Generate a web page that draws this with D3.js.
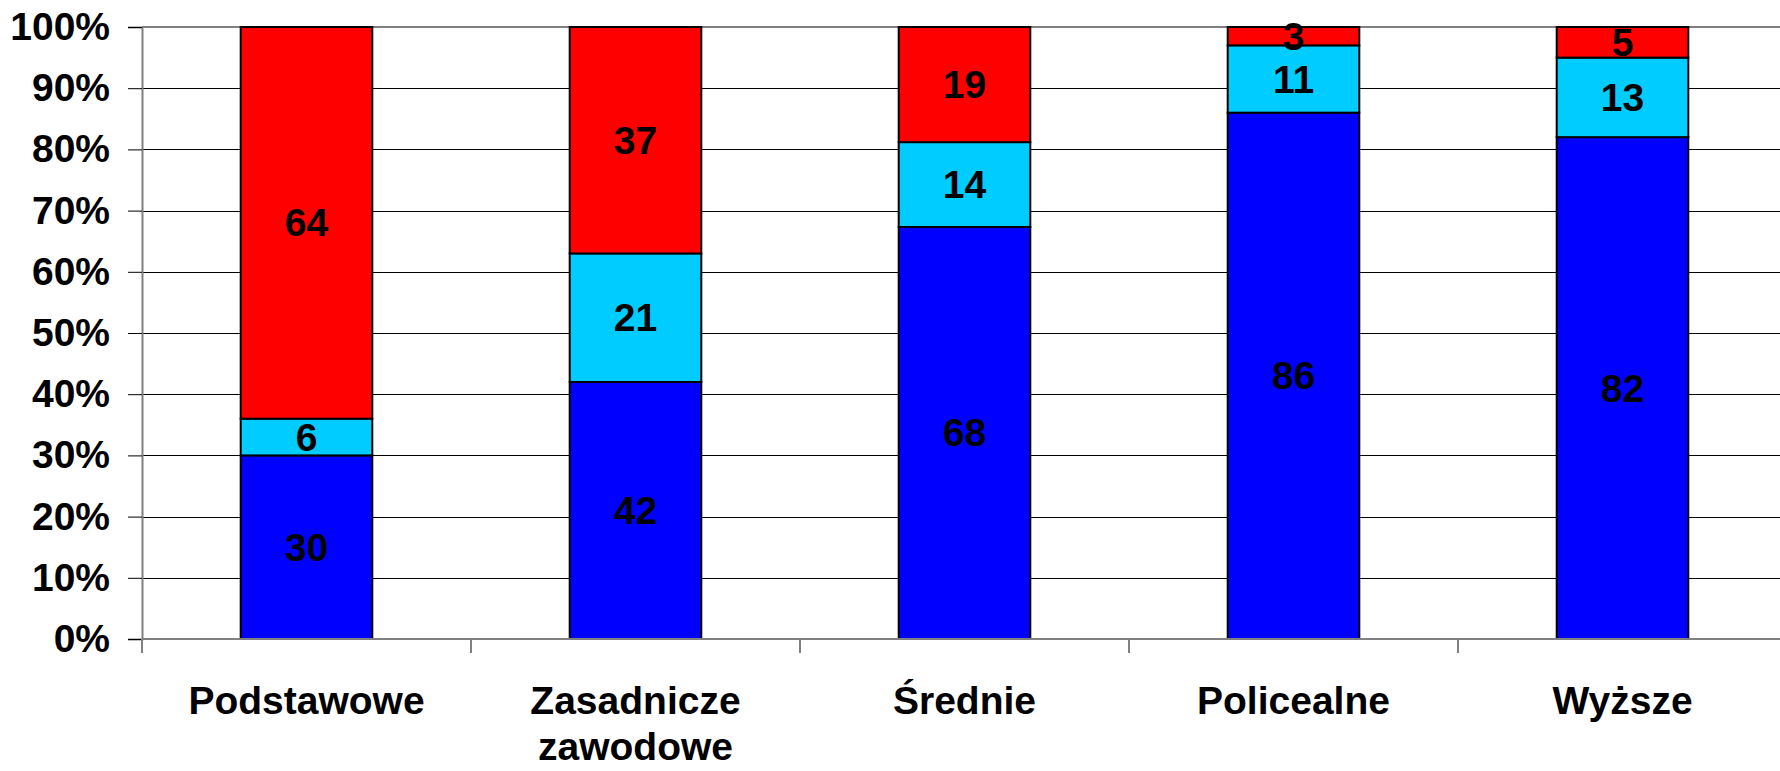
<!DOCTYPE html>
<html lang="pl">
<meta charset="utf-8">
<title>Wykształcenie</title>
<style>
    body { margin: 0; background: white; }
    #canvas { display: block; }
    text { font-family: "Liberation Sans", Arial, sans-serif; font-weight: bold; }
</style>

<body>
<svg id="canvas"></svg>

<script src="https://cdn.jsdelivr.net/npm/d3@7"></script>
<script>

    //////////////////////// Data /////////////////////////
    var categories   = ["Podstawowe", "Zasadnicze\nzawodowe", "Średnie", "Policealne", "Wyższe"];
    var series_keys  = ["s1", "s2", "s3"];
    var s1_values    = [30, 42, 68, 86, 82];
    var s2_values    = [6, 21, 14, 11, 13];
    var s3_values    = [64, 37, 19, 3, 5];
    var y_ticks      = [0, 0.1, 0.2, 0.3, 0.4, 0.5, 0.6, 0.7, 0.8, 0.9, 1];
    ///////////////////////////////////////////////////////

    //////////////// Position and Dimensions //////////////
    var dimensions   = [1780, 771];
    var plot_left    = 142;
    var plot_top     = 27;
    var plot_bottom  = 639;
    var band_step    = 329;
    var plot_right   = plot_left + categories.length * band_step;
    var tick_len     = 14;
    ///////////////////////////////////////////////////////

    /////////////////////// Style /////////////////////////
    var colors       = { s1: '#0000ff', s2: '#00ccff', s3: '#ff0000' };
    var axis_color   = '#808080';
    var grid_color   = '#000000';
    var font_size    = 39;
    ///////////////////////////////////////////////////////

    var rows = categories.map(function (c, i) {
        return { cat: c, s1: s1_values[i], s2: s2_values[i], s3: s3_values[i] };
    });

    var stacked = d3.stack()
        .keys(series_keys)
        .offset(d3.stackOffsetExpand)(rows);

    var x = d3.scaleBand()
        .domain(categories)
        .range([plot_left, plot_right])
        .paddingInner(0.6)
        .paddingOuter(0.3);

    var y = d3.scaleLinear()
        .domain([0, 1])
        .range([plot_bottom, plot_top]);

    var canvas = d3.select("#canvas")
        .attr('width',  dimensions[0])
        .attr('height', dimensions[1])
        .style('background-color', 'white');

    ///////////////////// grid lines //////////////////////
    canvas.append("g")
        .selectAll("line")
        .data(y_ticks.slice(1, -1))
        .join("line")
            .attr('x1', plot_left)
            .attr('x2', plot_right)
            .attr('y1', function (d) { return Math.round(y(d)) + 0.5; })
            .attr('y2', function (d) { return Math.round(y(d)) + 0.5; })
            .attr('stroke', grid_color)
            .attr('stroke-width', 1);
    // top border of the plot area
    canvas.append("line")
        .attr('x1', plot_left)
        .attr('x2', plot_right)
        .attr('y1', y(1))
        .attr('y2', y(1))
        .attr('stroke', axis_color)
        .attr('stroke-width', 2);
    ///////////////////////////////////////////////////////

    //////////////////////// bars /////////////////////////
    var layers = canvas.append("g")
        .selectAll("g")
        .data(stacked)
        .join("g")
            .attr('fill', function (d) { return colors[d.key]; });
    layers.selectAll("rect")
        .data(function (d) { return d; })
        .join("rect")
            .attr('x',      function (d) { return x(d.data.cat); })
            .attr('y',      function (d) { return y(d[1]); })
            .attr('width',  x.bandwidth())
            .attr('height', function (d) { return y(d[0]) - y(d[1]); })
            .attr('stroke', 'black')
            .attr('stroke-width', 2);
    ///////////////////////////////////////////////////////

    //////////////////// data labels //////////////////////
    layers.selectAll("text")
        .data(function (d) {
            return d.map(function (p) { return { p: p, key: d.key }; });
        })
        .join("text")
            .attr('x', function (d) { return x(d.p.data.cat) + x.bandwidth() / 2; })
            .attr('y', function (d) { return (y(d.p[0]) + y(d.p[1])) / 2; })
            .attr('text-anchor', 'middle')
            .attr('dominant-baseline', 'central')
            .attr('fill', 'black')
            .attr('font-size', font_size)
            .text(function (d) { return d.p.data[d.key]; });
    ///////////////////////////////////////////////////////

    /////////////////////// y axis ////////////////////////
    var y_axis = canvas.append("g")
        .attr('transform', 'translate(' + plot_left + ',0)')
        .call(d3.axisLeft(y)
            .tickValues(y_ticks)
            .tickFormat(d3.format(".0%"))
            .tickSize(tick_len)
            .tickPadding(18));
    y_axis.select(".domain")
        .attr('stroke', axis_color)
        .attr('stroke-width', 2);
    y_axis.selectAll(".tick line")
        .attr('stroke', 'black');
    y_axis.selectAll(".tick text")
        .attr('font-size', font_size)
        .attr('font-family', '"Liberation Sans", Arial, sans-serif')
        .attr('fill', 'black');
    ///////////////////////////////////////////////////////

    /////////////////////// x axis ////////////////////////
    canvas.append("line")
        .attr('x1', plot_left)
        .attr('x2', plot_right)
        .attr('y1', plot_bottom)
        .attr('y2', plot_bottom)
        .attr('stroke', axis_color)
        .attr('stroke-width', 2);
    var x_bounds = d3.range(categories.length + 1).map(function (i) {
        return plot_left + i * x.step();
    });
    canvas.append("g")
        .selectAll("line")
        .data(x_bounds)
        .join("line")
            .attr('x1', function (d) { return d; })
            .attr('x2', function (d) { return d; })
            .attr('y1', plot_bottom)
            .attr('y2', plot_bottom + tick_len)
            .attr('stroke', axis_color)
            .attr('stroke-width', 2);
    var cat_labels = canvas.append("g")
        .selectAll("text")
        .data(categories)
        .join("text")
            .attr('x', function (d) { return x(d) + x.bandwidth() / 2; })
            .attr('y', plot_bottom + 75)
            .attr('text-anchor', 'middle')
            .attr('font-size', font_size)
            .attr('fill', 'black');
    cat_labels.selectAll("tspan")
        .data(function (d) { return d.split("\n"); })
        .join("tspan")
            .attr('x', function () { return d3.select(this.parentNode).attr('x'); })
            .attr('dy', function (d, i) { return i === 0 ? 0 : 46; })
            .text(function (d) { return d; });
    ///////////////////////////////////////////////////////

</script>
</body>
</html>
